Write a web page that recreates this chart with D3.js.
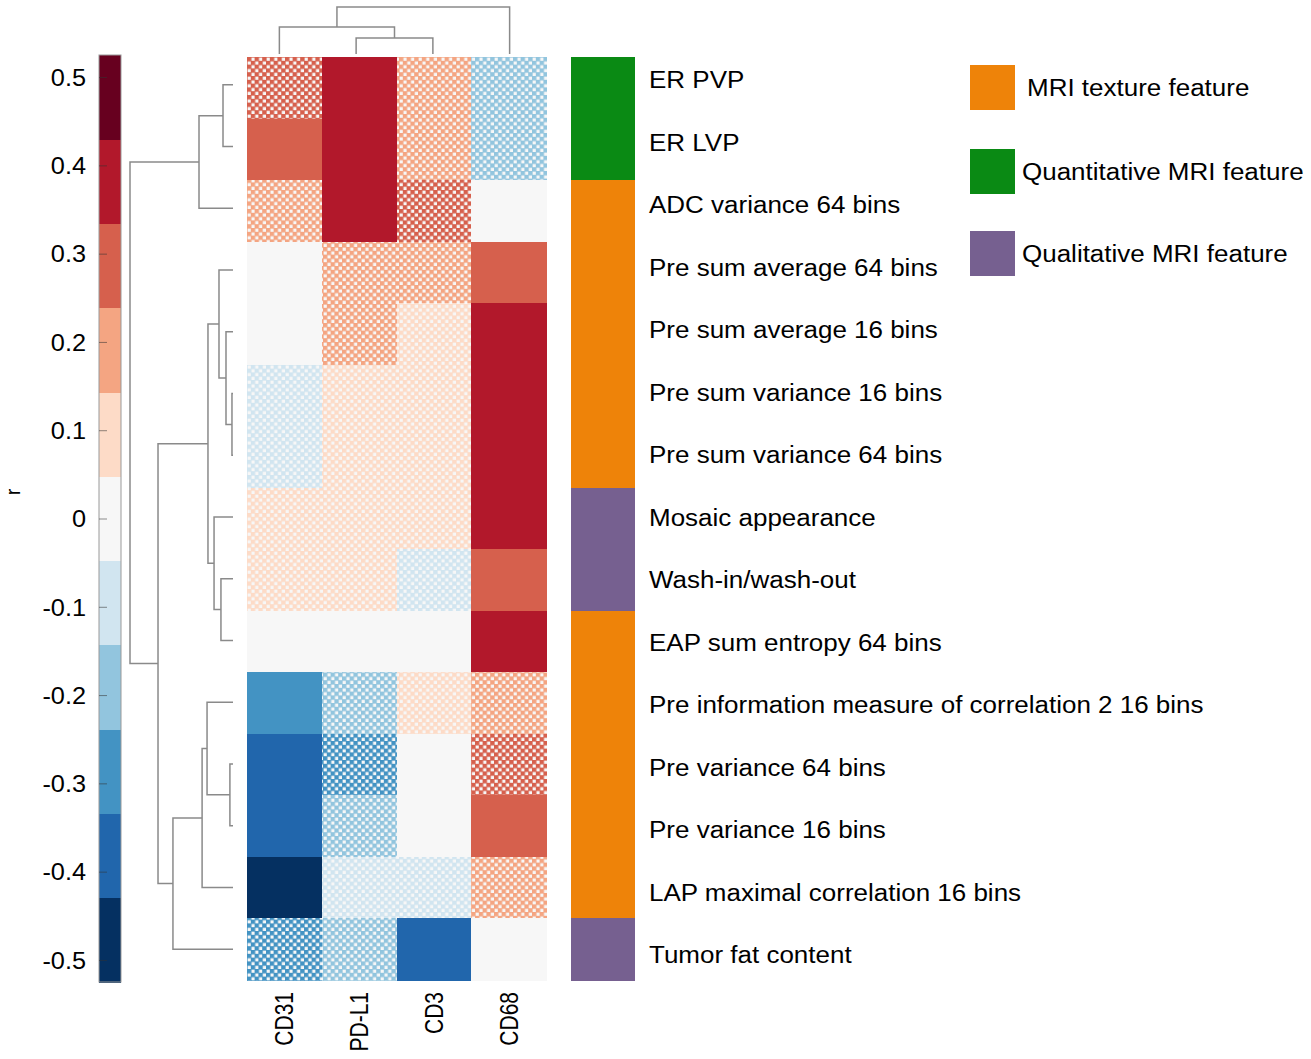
<!DOCTYPE html>
<html><head><meta charset="utf-8">
<script src="https://cdn.jsdelivr.net/npm/d3@7"></script>
<style>
body{margin:0;background:#fff}
svg{display:block}
text{font-family:"Liberation Sans",Arial,Helvetica,sans-serif;fill:#000}
</style>
</head><body>
<svg id="chart" width="1311" height="1059"></svg>
<script>
// ---------------- DATA ----------------
const rowLabels = [
  "ER PVP","ER LVP","ADC variance 64 bins","Pre sum average 64 bins","Pre sum average 16 bins",
  "Pre sum variance 16 bins","Pre sum variance 64 bins","Mosaic appearance","Wash-in/wash-out",
  "EAP sum entropy 64 bins","Pre information measure of correlation 2 16 bins","Pre variance 64 bins",
  "Pre variance 16 bins","LAP maximal correlation 16 bins","Tumor fat content"
];
const colLabels = ["CD31","PD-L1","CD3","CD68"];
// correlation r, columns: CD31, PD-L1, CD3, CD68
const rValues = [
  [ 0.29,  0.38,  0.19, -0.19],
  [ 0.29,  0.38,  0.19, -0.19],
  [ 0.19,  0.38,  0.29,  0.01],
  [ 0.01,  0.19,  0.19,  0.29],
  [ 0.02,  0.19,  0.10,  0.38],
  [-0.10,  0.10,  0.10,  0.38],
  [-0.10,  0.10,  0.10,  0.38],
  [ 0.10,  0.10,  0.10,  0.38],
  [ 0.10,  0.10, -0.10,  0.29],
  [ 0.00,  0.01, -0.01,  0.38],
  [-0.28, -0.19,  0.10,  0.19],
  [-0.38, -0.28,  0.00,  0.29],
  [-0.38, -0.19,  0.00,  0.29],
  [-0.47, -0.10, -0.10,  0.19],
  [-0.28, -0.19, -0.38,  0.01]
];
// 1 = significant (solid), 0 = not significant (checkered)
const significant = [
  [0,1,0,0],[1,1,0,0],[0,1,0,0],[0,0,0,1],[0,0,0,1],
  [0,0,0,1],[0,0,0,1],[0,0,0,1],[0,0,0,1],[0,0,0,1],
  [1,0,0,0],[1,0,0,0],[1,0,0,1],[1,0,0,0],[0,0,1,0]
];
const featureType = [
  "Quantitative","Quantitative","Texture","Texture","Texture","Texture","Texture",
  "Qualitative","Qualitative","Texture","Texture","Texture","Texture","Texture","Qualitative"
];
const legendItems = ["Texture","Quantitative","Qualitative"];
const legendLabels = ["MRI texture feature","Quantitative MRI feature","Qualitative MRI feature"];
const typeColors = ["#ee8309","#0a8a14","#766090"];
const cbColors = ["#053061","#2166ac","#4393c3","#92c5de","#d1e5f0","#f7f7f7",
                  "#fddbc7","#f4a582","#d6604d","#b2182b","#67001f"];
const cbTicks = [-0.5,-0.4,-0.3,-0.2,-0.1,0,0.1,0.2,0.3,0.4,0.5];
const cbDomain = [-0.525, 0.525];
// hierarchical clustering (leaf/merge index, leaf/merge index, relative height)
const rowMerges = [
  [5,6,0.01],[11,12,0.03],[4,15,0.068],[0,1,0.097],[8,9,0.117],[3,17,0.136],
  [7,19,0.184],[20,21,0.243],[10,16,0.252],[23,13,0.30],[18,2,0.33],
  [24,14,0.583],[22,26,0.728],[25,27,1.0]
];
const colMerges = [[1,2,0.34],[0,4,0.574],[5,3,1.0]];

// ---------------- DRAW ----------------
const svg = d3.select("#chart");
const defs = svg.append("defs");

const x = d3.scaleBand().domain(colLabels).range([247, 546]);
const y = d3.scaleBand().domain(d3.range(rowLabels.length)).range([57, 980]);
const color = d3.scaleQuantize().domain(cbDomain).range(cbColors);

// checker patterns
const S = 3.8, Q = 4.4;
cbColors.forEach((c, i) => {
  const p = defs.append("pattern").attr("id", "chk" + i)
    .attr("patternUnits", "userSpaceOnUse")
    .attr("width", 2 * S).attr("height", 2 * S).attr("x", 247).attr("y", 57);
  p.append("rect").attr("width", 2 * S).attr("height", 2 * S).attr("fill", "#f7f7f7");
  [[0, 0], [S, S], [-S, S], [S, -S]].forEach(([px, py]) =>
    p.append("rect").attr("x", px).attr("y", py).attr("width", Q).attr("height", Q).attr("fill", c));
});

const cells = [];
rValues.forEach((row, ri) => row.forEach((v, ci) =>
  cells.push({ri, ci, v, sig: significant[ri][ci]})));

svg.append("g").attr("shape-rendering", "crispEdges")
  .selectAll("rect").data(cells).join("rect")
  .attr("x", d => x(colLabels[d.ci]))
  .attr("y", d => y(d.ri))
  .attr("width", x.bandwidth() + 0.5)
  .attr("height", y.bandwidth() + 0.5)
  .attr("fill", d => d.sig ? color(d.v) : `url(#chk${cbColors.indexOf(color(d.v))})`);

// category bar
const typeColor = d3.scaleOrdinal().domain(legendItems).range(typeColors);
svg.append("g").attr("shape-rendering", "crispEdges")
  .selectAll("rect").data(featureType).join("rect")
  .attr("x", 571).attr("width", 64)
  .attr("y", (d, i) => y(i)).attr("height", y.bandwidth() + 0.8)
  .attr("fill", d => typeColor(d));

// row labels
const yLab = d3.scaleBand().domain(d3.range(rowLabels.length)).range([48.75, 986.25]);
svg.append("g").selectAll("text").data(rowLabels).join("text")
  .attr("transform", (d, i) => `translate(649,${yLab(i) + yLab.bandwidth() / 2}) scale(1.13,1)`)
  .attr("dy", "0.36em").attr("font-size", 23).text(d => d);

// column labels
svg.append("g").selectAll("text").data(colLabels).join("text")
  .attr("transform", d => `translate(${x(d) + x.bandwidth() / 2},992) rotate(-90) scale(1,1.2)`)
  .attr("text-anchor", "end").attr("dy", "0.36em").attr("font-size", 21).text(d => d);

// dendrograms
function linkage(n, merges, leafPos) {
  const pos = d3.range(n).map(leafPos), h = d3.range(n).map(() => 0), segs = [];
  merges.forEach(([a, b, hh]) => {
    segs.push({a: pos[a], b: pos[b], ha: h[a], hb: h[b], h: hh});
    pos.push((pos[a] + pos[b]) / 2); h.push(hh);
  });
  return segs;
}
const yLeaf = d3.scaleBand().domain(d3.range(rowLabels.length)).range([54, 980]);
const hLeft = d3.scaleLinear().domain([0, 1]).range([233, 130]);
const rowSegs = linkage(rowLabels.length, rowMerges, i => yLeaf(i) + yLeaf.bandwidth() / 2);
svg.append("g").attr("fill", "none").attr("stroke", "#8a8a8a").attr("stroke-width", 1.5)
  .selectAll("path").data(rowSegs).join("path")
  .attr("d", s => `M${hLeft(s.ha)},${s.a}H${hLeft(s.h)}V${s.b}H${hLeft(s.hb)}`);

const xLeaf = d3.scaleBand().domain(colLabels).range([241, 548]);
const hTop = d3.scaleLinear().domain([0, 1]).range([54, 7]);
const colSegs = linkage(colLabels.length, colMerges, i => xLeaf(colLabels[i]) + xLeaf.bandwidth() / 2);
svg.append("g").attr("fill", "none").attr("stroke", "#8a8a8a").attr("stroke-width", 1.5)
  .selectAll("path").data(colSegs).join("path")
  .attr("d", s => `M${s.a},${hTop(s.ha)}V${hTop(s.h)}H${s.b}V${hTop(s.hb)}`);

// colour bar
const cbY = d3.scaleLinear().domain(cbDomain).range([982, 55]);
const edges = [cbDomain[0], ...color.thresholds(), cbDomain[1]];
const cb = svg.append("g");
cb.append("g").attr("shape-rendering", "crispEdges")
  .selectAll("rect").data(cbColors).join("rect")
  .attr("x", 99).attr("width", 22)
  .attr("y", (d, i) => cbY(edges[i + 1]))
  .attr("height", (d, i) => cbY(edges[i]) - cbY(edges[i + 1]) + 0.5)
  .attr("fill", d => d);
cb.append("rect").attr("x", 99).attr("y", 55).attr("width", 22).attr("height", 927)
  .attr("fill", "none").attr("stroke", "#999").attr("stroke-width", 1);

const marks = svg.append("g").attr("transform", "translate(99,0)")
  .call(d3.axisRight(cbY).tickValues(cbTicks).tickSize(8).tickFormat(""));
marks.select(".domain").remove();
marks.selectAll("line").attr("stroke", "#333").attr("stroke-opacity", 0.55);

const labs = svg.append("g").attr("transform", "translate(86,0)")
  .call(d3.axisLeft(cbY).tickValues(cbTicks).tickSize(0).tickFormat(d => String(d)));
labs.select(".domain").remove();
labs.attr("font-family", null).attr("font-size", null);
labs.selectAll("text").attr("x", 0).attr("dy", "0.36em").attr("font-size", 23)
  .attr("transform", "scale(1.1,1)").attr("fill", "#000");

svg.append("text").attr("transform", "translate(20,492) rotate(-90)")
  .attr("text-anchor", "middle").attr("font-size", 20).text("r");

// legend
const leg = svg.append("g").selectAll("g").data(legendItems).join("g")
  .attr("transform", (d, i) => `translate(970,${[65, 149, 231][i]})`);
leg.append("rect").attr("width", 45).attr("height", 45).attr("fill", d => typeColor(d));
leg.append("text")
  .attr("transform", (d, i) => `translate(${i === 0 ? 57 : 52},22.5) scale(1.13,1)`)
  .attr("dy", "0.36em").attr("font-size", 23).text((d, i) => legendLabels[i]);
</script>
</body></html>
